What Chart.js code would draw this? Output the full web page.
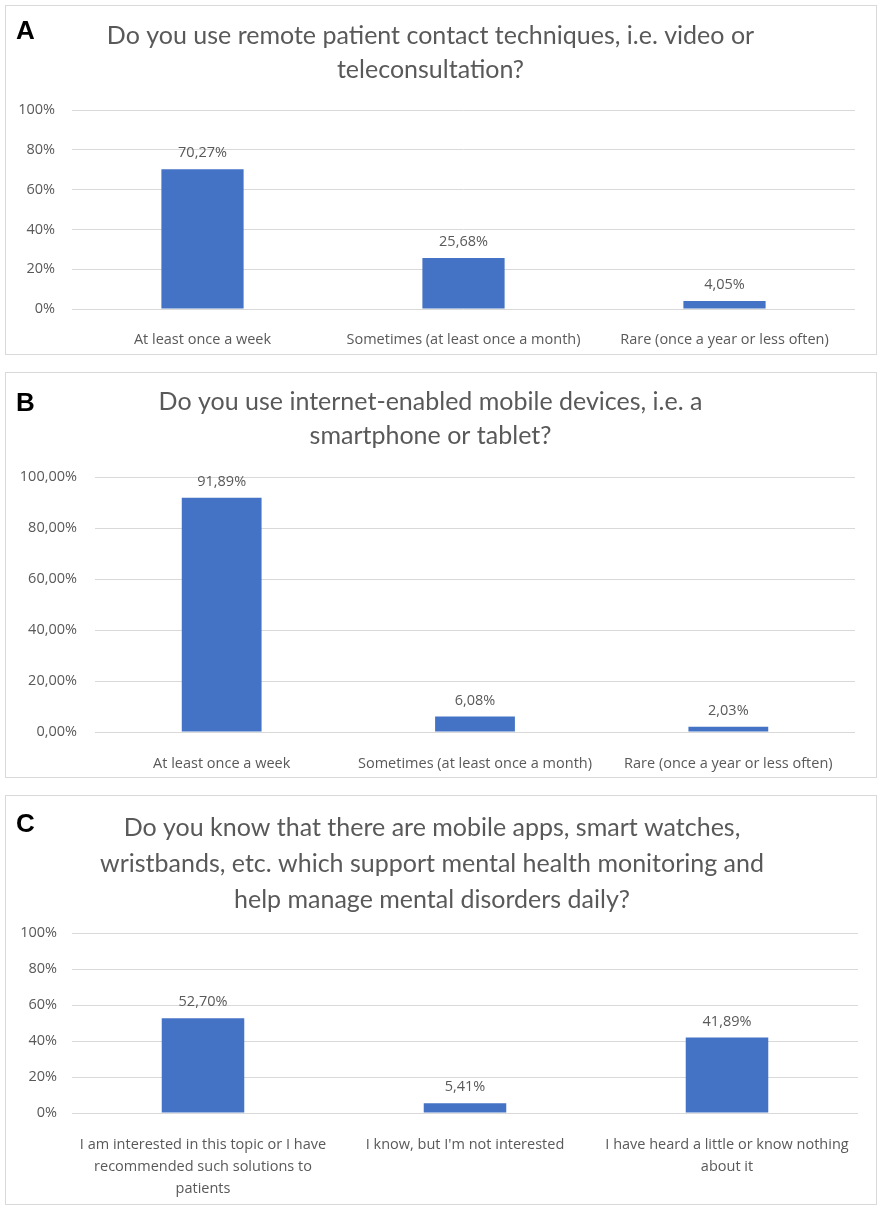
<!DOCTYPE html>
<html>
<head>
<meta charset="utf-8">
<title>Survey charts</title>
<script src="https://cdn.jsdelivr.net/npm/chart.js@4.4.1/dist/chart.umd.min.js"></script>
<style>
  body { margin: 0; background: #fff; width: 886px; height: 1210px; position: relative; overflow: hidden; }
  .panel { position: absolute; left: 5px; width: 872px; border: 1px solid #d9d9d9; box-sizing: border-box; }
  .letter { position: absolute; left: 16px; font: bold 26px "Liberation Sans", Arial, sans-serif; line-height: 26px; color: #000; }
</style>
</head>
<body>
<div class="panel" style="top:5px;height:350px"><canvas id="chartA"></canvas></div>
<div class="panel" style="top:372px;height:406px"><canvas id="chartB"></canvas></div>
<div class="panel" style="top:795px;height:410px"><canvas id="chartC"></canvas></div>
<div class="letter" style="top:17px">A</div>
<div class="letter" style="top:389px">B</div>
<div class="letter" style="top:810px">C</div>
<script>
// data
const titleA = ['Do you use remote patient contact techniques, i.e. video or', 'teleconsultation?'];
const labelsA = ['At least once a week', 'Sometimes (at least once a month)', 'Rare (once a year or less often)'];
const valuesA = [70.27, 25.68, 4.05];

const titleB = ['Do you use internet-enabled mobile devices, i.e. a', 'smartphone or tablet?'];
const labelsB = ['At least once a week', 'Sometimes (at least once a month)', 'Rare (once a year or less often)'];
const valuesB = [91.89, 6.08, 2.03];

const titleC = ['Do you know that there are mobile apps, smart watches,',
  'wristbands, etc. which support mental health monitoring and',
  'help manage mental disorders daily?'];
const labelsC = [
  ['I am interested in this topic or I have', 'recommended such solutions to', 'patients'],
  ["I know, but I'm not interested"],
  ['I have heard a little or know nothing', 'about it']
];
const valuesC = [52.70, 5.41, 41.89];

// y axis ticks, in percent
const yTicks = [0, 20, 40, 60, 80, 100];

const barColor = '#4472C4';
const textColor = '#595959';
const gridColor = '#d9d9d9';
const titleFont = 'Lato, "Open Sans", sans-serif';
const smallFont = '"Open Sans", Lato, sans-serif';
const smallSize = 14.5;

// 70.27 -> "70,27%"
function pct(v, decimals) {
  return v.toFixed(decimals).replace('.', ',') + '%';
}

// writes the value above each bar
const valueLabels = {
  id: 'valueLabels',
  afterDatasetsDraw(chart) {
    const ctx = chart.ctx;
    const meta = chart.getDatasetMeta(0);
    const values = chart.data.datasets[0].data;
    ctx.save();
    ctx.font = smallSize + 'px ' + smallFont;
    ctx.fillStyle = textColor;
    ctx.textAlign = 'center';
    ctx.textBaseline = 'middle';
    meta.data.forEach(function (bar, i) {
      ctx.fillText(pct(values[i], 2), bar.x, bar.y - 16);
    });
    ctx.restore();
  }
};

function makeChart(id, cfg) {
  return new Chart(document.getElementById(id), {
    type: 'bar',
    data: {
      labels: cfg.labels,
      datasets: [{
        data: cfg.values,
        backgroundColor: barColor,
        categoryPercentage: 1,
        barPercentage: 0.315
      }]
    },
    options: {
      responsive: true,
      maintainAspectRatio: false,
      animation: false,
      layout: { padding: { right: cfg.padRight } },
      plugins: {
        legend: { display: false },
        tooltip: { enabled: false },
        title: {
          display: true,
          text: cfg.title,
          color: textColor,
          font: { family: titleFont, size: 25, weight: 'normal', lineHeight: cfg.titleLine / 25 },
          padding: { top: cfg.titleTop, bottom: cfg.titleBottom }
        }
      },
      scales: {
        x: {
          grid: { display: false },
          border: { display: false },
          ticks: {
            color: textColor,
            padding: cfg.xPad,
            maxRotation: 0,
            autoSkip: false,
            font: { family: smallFont, size: smallSize, lineHeight: cfg.xLine / smallSize }
          },
          afterFit: function (s) { s.height = cfg.bottom; }
        },
        y: {
          min: 0,
          max: 100,
          afterBuildTicks: function (s) { s.ticks = yTicks.map(v => ({ value: v })); },
          ticks: {
            color: textColor,
            padding: cfg.yPad,
            font: { family: smallFont, size: smallSize },
            callback: v => pct(v, cfg.tickDecimals)
          },
          grid: { color: gridColor, drawTicks: false },
          border: { display: false },
          afterFit: function (s) { s.width = cfg.left; }
        }
      }
    },
    plugins: [valueLabels]
  });
}

makeChart('chartA', {
  title: titleA, labels: labelsA, values: valuesA, tickDecimals: 0,
  titleTop: 13, titleLine: 34, titleBottom: 23,
  left: 66, yPad: 17, padRight: 21, bottom: 45, xPad: 14, xLine: 18
});

makeChart('chartB', {
  title: titleB, labels: labelsB, values: valuesB, tickDecimals: 2,
  titleTop: 12, titleLine: 34, titleBottom: 24,
  left: 89, yPad: 18, padRight: 21, bottom: 45, xPad: 15, xLine: 18
});

makeChart('chartC', {
  title: titleC, labels: labelsC, values: valuesC, tickDecimals: 0,
  titleTop: 14, titleLine: 36, titleBottom: 15,
  left: 66, yPad: 15, padRight: 18, bottom: 91, xPad: 13, xLine: 22
});
</script>
</body>
</html>
